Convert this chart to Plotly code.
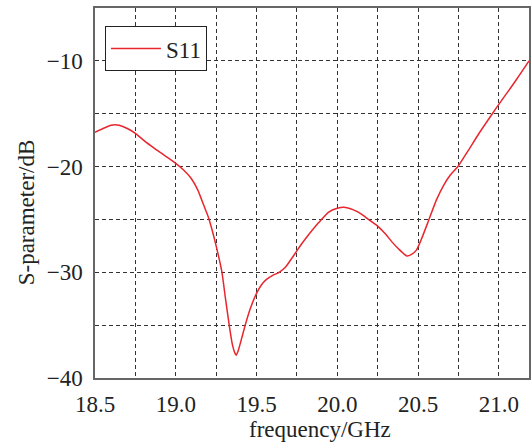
import plotly.graph_objects as go

freq_ghz = [18.50, 18.55, 18.60, 18.623, 18.65, 18.70, 18.75, 18.80, 18.87, 18.94,
            19.00, 19.05, 19.095, 19.136, 19.177, 19.20, 19.225, 19.25, 19.286, 19.307,
            19.331, 19.35, 19.365, 19.374, 19.385, 19.40, 19.43, 19.46, 19.50, 19.53,
            19.56, 19.60, 19.64, 19.68, 19.74, 19.78, 19.82, 19.885, 19.947, 20.00,
            20.04, 20.10, 20.15, 20.193, 20.255, 20.30, 20.337, 20.38, 20.43, 20.46,
            20.49, 20.52, 20.563, 20.614, 20.661, 20.70, 20.747, 20.81, 20.88, 20.96,
            21.01, 21.076, 21.13, 21.187]
s11_db = [-16.75, -16.4, -16.1, -16.05, -16.1, -16.4, -16.85, -17.5, -18.3, -19.05,
          -19.7, -20.35, -21.1, -22.2, -23.8, -24.7, -26.0, -27.5, -30.0, -32.4,
          -35.0, -36.8, -37.6, -37.85, -37.5, -36.7, -35.0, -33.5, -32.0, -31.2,
          -30.7, -30.3, -30.0, -29.5, -28.2, -27.3, -26.5, -25.3, -24.3, -23.95,
          -23.85, -24.1, -24.5, -25.0, -25.7, -26.4, -27.1, -27.8, -28.45, -28.3,
          -27.9, -26.9, -25.2, -23.15, -21.7, -20.8, -20.0, -18.5, -16.8, -15.0,
          -13.9, -12.5, -11.3, -10.0]

x_ticks = [18.5, 19.0, 19.5, 20.0, 20.5, 21.0]
x_ticktext = ["18.5", "19.0", "19.5", "20.0", "20.5", "21.0"]
y_ticks = [-40, -30, -20, -10]
y_ticktext = ["\u221240", "\u221230", "\u221220", "\u221210"]

FONT = "Liberation Serif, Times New Roman, serif"
grid = dict(griddash="4px,3px", gridcolor="#333333", gridwidth=1)

fig = go.Figure()
fig.add_trace(go.Scatter(x=freq_ghz, y=s11_db, mode="lines", name="S11",
                         line=dict(color="#e8262e", width=1.5, shape="spline", smoothing=0.5)))

fig.update_layout(
    width=532, height=446,
    margin=dict(l=95, r=1, t=8, b=68),
    paper_bgcolor="white", plot_bgcolor="white",
    font=dict(family=FONT, size=23, color="#222222"),
    showlegend=True,
    legend=dict(x=0.0229, y=0.951, xanchor="left", yanchor="top",
                bordercolor="#222222", borderwidth=1, bgcolor="white",
                font=dict(family=FONT, size=23, color="#222222"),
                itemwidth=50, entrywidth=100, tracegroupgap=0),
    xaxis=dict(range=[18.5, 21.187], tickvals=x_ticks, ticktext=x_ticktext,
               showgrid=True, **grid, zeroline=False,
               showline=True, linecolor="#666666", linewidth=1.5, mirror=True,
               ticks="", ticklabelstandoff=5,
               minor=dict(dtick=0.25, tick0=18.5, showgrid=True, **grid)),
    yaxis=dict(range=[-40, -5], tickvals=y_ticks, ticktext=y_ticktext,
               showgrid=True, **grid, zeroline=False,
               showline=True, linecolor="#666666", linewidth=1.5, mirror=True,
               ticks="", ticklabelstandoff=6,
               minor=dict(dtick=5, tick0=-40, showgrid=True, **grid)),
    annotations=[
        dict(text="frequency/GHz", xref="paper", yref="paper", x=0.518, y=-0.1405,
             xanchor="center", yanchor="middle", showarrow=False,
             font=dict(family=FONT, size=23, color="#222222")),
        dict(text="S-parameter/dB", xref="paper", yref="paper", x=-0.158, y=0.449,
             xanchor="center", yanchor="middle", textangle=-90, showarrow=False,
             font=dict(family=FONT, size=23, color="#222222")),
    ],
)

fig.write_html("out.html")
